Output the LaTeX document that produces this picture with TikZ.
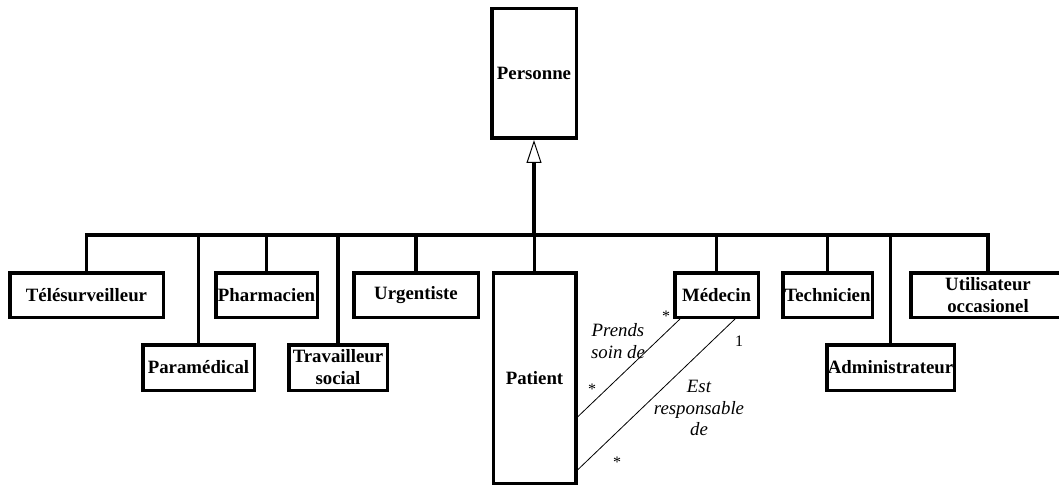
\documentclass[tikz,border=0pt]{standalone}
\usepackage{fontspec}
\setmainfont{Liberation Serif}
\usetikzlibrary{arrows.meta}

\begin{document}
\begin{tikzpicture}[
                x=1pt, y=-1pt,
                classe/.style={
                    draw=black,
                    line width=3.5pt,
                    rectangle,
                    inner sep=0pt,
                    minimum height=44.5pt,
                    align=center,
                    font=\fontsize{18.8}{22}\selectfont\bfseries
                },
                lien/.style={
                    line width=3.5pt
                },
                herite/.style={
                    line width=3.5pt,
                    -{Triangle[open, length=23pt, width=15pt, line width=1pt]}
                },
                assoc/.style={
                    line width=0.8pt
                },
                role/.style={
                    align=center,
                    inner sep=0pt,
                    font=\fontsize{18.8}{21.5}\selectfont\itshape
                },
                mult/.style={
                    inner sep=0pt,
                    font=\fontsize{16}{16}\selectfont
                }
            ]
                \useasboundingbox (0,0) rectangle (1059,486);

                \node[classe, minimum width=84.5pt, minimum height=129.5pt] (personne) at (534,73.5) {Personne};

                \node[classe, minimum width=153.5pt] (tele)    at (86.5,295)    {Télésurveilleur};
                \node[classe, minimum width=111.5pt, minimum height=45.5pt] (para) at (198.5,367.5) {Paramédical};
                \node[classe, minimum width=101.5pt] (pharma)  at (266.5,295)   {Pharmacien};
                \node[classe, minimum width=98.5pt, minimum height=45.5pt] (travail) at (338,367.5) {Travailleur\\social};
                \node[classe, minimum width=124.5pt] (urgent)  at (416,295)     {Urgentiste};
                \node[classe, minimum width=82.5pt, minimum height=210.5pt] (patient) at (534.5,378) {Patient};
                \node[classe, minimum width=83.5pt] (medecin)  at (716.5,295)   {Médecin};
                \node[classe, minimum width=89.5pt] (techn)    at (827.5,295)   {Technicien};
                \node[classe, minimum width=127.5pt, minimum height=45.5pt] (admin) at (890.5,367.5) {Administrateur};
                \node[classe, minimum width=154.5pt] (util)    at (988,295)     {Utilisateur\\occasionel};

                \coordinate (barre) at (534,235);

                \draw[herite] (barre) -- (personne.south);
                \draw[lien] ([xshift=-1.75pt]tele.north |- barre) -- ([xshift=1.75pt]util.north |- barre);
                \draw[lien] (tele.north) -- (tele.north |- barre);
                \draw[lien] (para.north) -- (para.north |- barre);
                \draw[lien] (pharma.north) -- (pharma.north |- barre);
                \draw[lien] (travail.north) -- (travail.north |- barre);
                \draw[lien] (urgent.north) -- (urgent.north |- barre);
                \draw[lien] (patient.north) -- (patient.north |- barre);
                \draw[lien] (medecin.north) -- (medecin.north |- barre);
                \draw[lien] (techn.north) -- (techn.north |- barre);
                \draw[lien] (admin.north) -- (admin.north |- barre);
                \draw[lien] (util.north) -- (util.north |- barre);

                \coordinate (soinP) at ([yshift=-39pt]patient.east);
                \coordinate (soinM) at ([xshift=-36.5pt]medecin.south);
                \coordinate (respP) at ([yshift=-92pt]patient.east);
                \coordinate (respM) at ([xshift=18.5pt]medecin.south);

                \draw[assoc] (soinP) -- (soinM);
                \draw[assoc] (respP) -- (respM);

                \node[role] (soin) at (618,341) {Prends\\soin de};
                \node[role] (resp) at (699,408) {Est\\responsable\\de};

                \node[mult] (m1) at (666,316) {*};
                \node[mult] (m2) at (592,389) {*};
                \node[mult] (m3) at (739,341) {1};
                \node[mult] (m4) at (617,462) {*};
        \end{tikzpicture}
\end{document}
